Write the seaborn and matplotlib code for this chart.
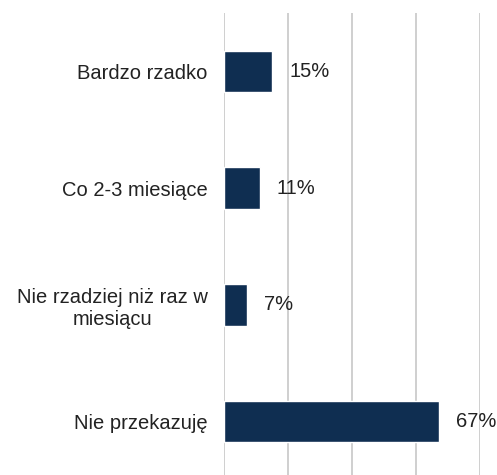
import matplotlib
matplotlib.use("Agg")
import matplotlib.pyplot as plt
import seaborn as sns
import pandas as pd

# dane z wykresu
categories = ["Bardzo rzadko", "Co 2-3 miesiące", "Nie rzadziej niż raz w\nmiesiącu", "Nie przekazuję"]
values = [15, 11, 7, 67]
grid_ticks = [0, 20, 40, 60, 80]

df = pd.DataFrame({"kategoria": categories, "procent": values})

sns.set_style("white")
plt.rcParams["font.family"] = ["Liberation Sans", "DejaVu Sans"]

fig = plt.figure(figsize=(4.97, 4.75), dpi=100)
ax = fig.add_axes([0.4517, -0.0105, 0.515, 0.983])

sns.barplot(data=df, x="procent", y="kategoria", color="#0f2e51", width=0.355,
            saturation=1, orient="h", ax=ax)

ax.set_xlim(0, 80)
ax.set_ylim(3.5, -0.5)
ax.set_xticks(grid_ticks)
ax.set_xticklabels([])
ax.xaxis.grid(True, color="#cccccc", linewidth=1.3)
ax.set_axisbelow(True)
ax.tick_params(axis="x", length=0)
ax.tick_params(axis="y", length=0, pad=12, labelsize=14.5, labelcolor="#222222")
for lab in ax.get_yticklabels():
    lab.set_multialignment("center")
ax.set_xlabel("")
ax.set_ylabel("")
for s in ax.spines.values():
    s.set_visible(False)

ax.bar_label(ax.containers[0], fmt="%d%%", padding=12, fontsize=14.5, color="#222222")

fig.savefig("out.png", dpi=100)
